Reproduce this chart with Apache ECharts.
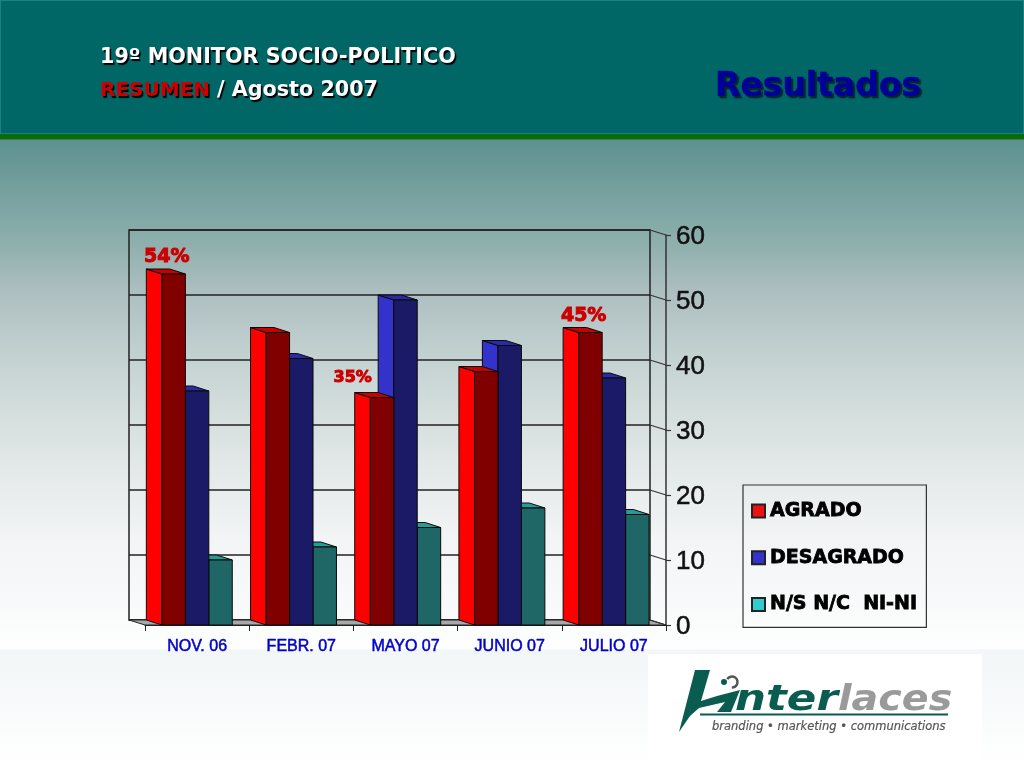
<!DOCTYPE html>
<html><head><meta charset="utf-8">
<style>html,body{margin:0;padding:0;background:#fff}#c{width:1024px;height:768px}</style>
<script src="https://cdn.jsdelivr.net/npm/echarts@6/dist/echarts.min.js"></script>
</head><body><div id="c"></div>
<script>
const categories = ['NOV. 06','FEBR. 07','MAYO 07','JUNIO 07','JULIO 07'];
const agrado = [54, 45, 35, 39, 45];
const desagrado = [36, 41, 50, 43, 38];
const nsnc = [10, 12, 15, 18, 17];
const agradoLabels = ['54%','','35%','','45%'];
const yTicks = [0,10,20,30,40,50,60];
const seriesNames = ['AGRADO','DESAGRADO','N/S N/C  NI-NI'];

const DX = 16, DY = 5, BAR_DX = 15.6;
const palette = [
  {side:'#ff0000', front:'#800000', top:'#c80000', legend:'#ee1111'},
  {side:'#3333cc', front:'#1a1a66', top:'#2a2aa6', legend:'#3333cc'},
  {side:'#33cccc', front:'#1f6666', top:'#269c98', legend:'#33cccc'}
];
const edge = {stroke:'#0a0a0a', lineWidth:1};

function barRenderer(idx){
  return function(params, api){
    const c = api.coord([api.value(0), api.value(1)]);
    const base = api.coord([api.value(0), 0]);
    const w = api.size([1,0])[0] * 0.225;
    const xl = c[0] - 1.5*w + idx*w, xr = xl + w;
    const yt = c[1], yb = base[1];
    const p = palette[idx];
    const poly = (pts, fill) => ({type:'polygon', shape:{points:pts}, style:Object.assign({fill}, edge)});
    const children = [
      poly([[xl-BAR_DX,yt-DY],[xl,yt],[xl,yb],[xl-BAR_DX,yb-DY]], p.side),
      poly([[xl-BAR_DX,yt-DY],[xr-BAR_DX,yt-DY],[xr,yt],[xl,yt]], p.top),
      poly([[xl,yt],[xr,yt],[xr,yb],[xl,yb]], p.front)
    ];
    if (idx === 0) {
      const t = agradoLabels[params.dataIndex];
      if (t) {
        const small = t === '35%';
        children.push({type:'text', style:{
          text:t, x: small ? xl-BAR_DX-2 : (xl-BAR_DX+xr)/2+1, y: yt-DY-(small?14.5:11.5),
          fill:'#cc0000', font:'bold '+(small?16:19)+'px "DejaVu Sans"',
          textAlign:'center', textVerticalAlign:'middle',
          stroke:'#cc0000', lineWidth:1
        }});
      }
    }
    return {type:'group', children};
  };
}
function barSeries(idx, arr){
  return {type:'custom', name:seriesNames[idx], xAxisIndex:1, yAxisIndex:1, z:10-idx, clip:false,
    itemStyle:{color:palette[idx].legend, borderColor:'#222', borderWidth:1},
    data:arr.map((v,i)=>[i,v]), encode:{x:0,y:1}, renderItem:barRenderer(idx)};
}

const headerFont = 'bold 20.7px "DejaVu Sans"';
const shadow = {textShadowColor:'#000',textShadowOffsetX:1.5,textShadowOffsetY:1.5,textShadowBlur:1};
const logoGreen = '#0b5c50';
const option = {
  animation:false,
  backgroundColor:{type:'linear',x:0,y:0,x2:0,y2:1,colorStops:[
    {offset:0,color:'#5e9290'},{offset:0.185,color:'#5e9290'},
    {offset:0.328,color:'#93b2b0'},{offset:0.381,color:'#aebfc1'},
    {offset:0.488,color:'#c9d6d5'},{offset:0.594,color:'#e0e7e6'},
    {offset:0.70,color:'#f2f4f5'},{offset:0.845,color:'#fdfefe'},
    {offset:0.8465,color:'#f2f6f7'},{offset:1,color:'#ffffff'}]},
  grid:[
    {left:129,top:230,width:521,height:390,show:true,borderColor:'#222',borderWidth:1.5,backgroundColor:'transparent'},
    {left:145,top:235,width:521,height:390}
  ],
  xAxis:[
    {gridIndex:0,type:'category',data:categories,axisLine:{show:false},axisTick:{show:false},axisLabel:{show:false},splitLine:{show:false}},
    {gridIndex:1,type:'category',data:categories,position:'bottom',
     axisLine:{show:true,lineStyle:{color:'#222',width:1}},
     axisTick:{show:true,length:6,alignWithLabel:false,lineStyle:{color:'#222',width:1}},
     axisLabel:{color:'#0000cc',fontFamily:'"Liberation Sans"',fontSize:16,margin:14,textBorderColor:'#0000cc',textBorderWidth:0.5,interval:0},
     splitLine:{show:false}}
  ],
  yAxis:[
    {gridIndex:0,type:'value',min:0,max:60,interval:10,axisLine:{show:false},axisTick:{show:false},axisLabel:{show:false},
     splitLine:{show:true,lineStyle:{color:'#222',width:1.5,type:'solid'}}},
    {gridIndex:1,type:'value',min:0,max:60,interval:10,position:'right',
     axisLine:{show:true,lineStyle:{color:'#333',width:1.5}},
     axisTick:{show:true,length:5,lineStyle:{color:'#333',width:1.2}},
     axisLabel:{margin:10,formatter:'{n|{value}}',
       rich:{n:{color:'#111',fontFamily:'"Liberation Sans"',fontSize:26,padding:[4,0,0,0],textBorderColor:'#111',textBorderWidth:0.5}}},
     splitLine:{show:false}}
  ],
  legend:{
    show:true, orient:'vertical', left:743, top:485, data:seriesNames,
    icon:'rect', itemWidth:13, itemHeight:13, itemGap:27,
    backgroundColor:'transparent', borderColor:'#333', borderWidth:1.2, padding:[16,9,13,8], selectedMode:false,
    textStyle:{color:'#000',fontFamily:'"DejaVu Sans"',fontWeight:'bold',fontSize:19,textBorderColor:'#000',textBorderWidth:0.8}
  },
  tooltip:{show:false},
  series:[
    {type:'custom', silent:true, xAxisIndex:1, yAxisIndex:1, z:1, clip:false, data:[[0,0]], encode:{x:0,y:1},
     renderItem(params, api){
       const g = params.coordSys; const y = api.coord([0,0])[1];
       return {type:'polygon', shape:{points:[[g.x-DX,y-DY],[g.x+g.width-DX,y-DY],[g.x+g.width,y],[g.x,y]]},
         style:{fill:'#a8a8a8',stroke:'#222',lineWidth:1}};
     }},
    {type:'custom', silent:true, xAxisIndex:1, yAxisIndex:1, z:1, clip:false, data:yTicks.map(v=>[0,v]), encode:{x:0,y:1},
     renderItem(params, api){
       const g = params.coordSys; const y = api.coord([0,api.value(1)])[1]; const xr = g.x+g.width;
       return {type:'line', shape:{x1:xr-DX,y1:y-DY,x2:xr,y2:y}, style:{stroke:'#333',lineWidth:1.2}};
     }},
    barSeries(0, agrado), barSeries(1, desagrado), barSeries(2, nsnc)
  ],
  graphic:[
    {type:'rect',shape:{x:0,y:0,width:1024,height:134},style:{fill:'#006666',stroke:'#2a8a86',lineWidth:1.5},z:0},
    {type:'rect',shape:{x:0,y:134,width:1024,height:5.5},style:{fill:'#0a6b0a'},z:0},
    {type:'text',x:100,y:58,style:Object.assign({text:'19º MONITOR SOCIO-POLITICO',font:headerFont,fill:'#fff',textVerticalAlign:'middle'},shadow),z:5},
    {type:'text',x:100,y:91,style:Object.assign({text:'RESUMEN',font:'bold 20px "DejaVu Sans"',fill:'#cc0000',textVerticalAlign:'middle'},shadow),z:5},
    {type:'text',x:217,y:91,style:Object.assign({text:'/ Agosto 2007',font:headerFont,fill:'#fff',textVerticalAlign:'middle'},shadow),z:5},
    {type:'text',x:715,y:87,style:{text:'Resultados',font:'bold 33px "DejaVu Sans"',fill:'#000099',stroke:'#000099',lineWidth:0.6,textVerticalAlign:'middle',textShadowColor:'#00252a',textShadowOffsetX:2,textShadowOffsetY:2,textShadowBlur:1},z:5},
    {type:'rect',shape:{x:648,y:654,width:334,height:114},style:{fill:'#ffffff'},z:5},
    {type:'polygon',shape:{points:[[679,732],[695,670],[710,670],[701,701],[717,696],[740,690],[731,712],[717,712],[725,702],[699,708],[690,716]]},style:{fill:logoGreen},z:6},
    {type:'arc',shape:{cx:732,cy:682,r:5.5,startAngle:-2.6,endAngle:1.6,clockwise:true},style:{stroke:'#555',fill:null,lineWidth:2.5},z:6},
    {type:'circle',shape:{cx:724,cy:682,r:3},style:{fill:logoGreen},z:6},
    {type:'text',x:735,y:700.5,scaleX:1.21,style:{text:'nter',font:'italic bold 36px "DejaVu Sans"',fill:logoGreen,textVerticalAlign:'middle'},z:6},
    {type:'text',x:838,y:700.5,scaleX:1.1,style:{text:'laces',font:'italic bold 36px "DejaVu Sans"',fill:'#9a9a9a',textVerticalAlign:'middle'},z:6},
    {type:'rect',shape:{x:700,y:713.5,width:248,height:2},style:{fill:logoGreen},z:6},
    {type:'text',x:712,y:727,style:{text:'branding • marketing • communications',font:'italic 11.5px "DejaVu Sans"',fill:'#555',stroke:'#555',lineWidth:0.2,textVerticalAlign:'middle'},z:6}
  ]
};
echarts.init(document.getElementById('c'),null,{renderer:'canvas'}).setOption(option);
</script></body></html>
